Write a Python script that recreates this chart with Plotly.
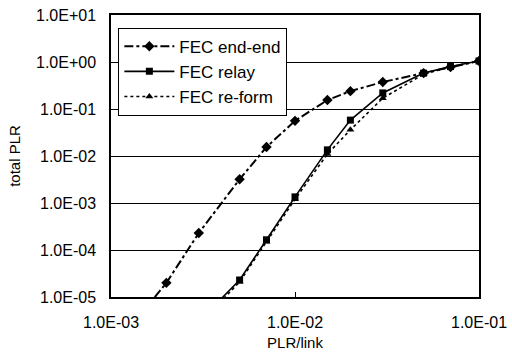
import plotly.graph_objects as go

# PLR per link (x) values
x_end = [0.0015, 0.002, 0.003, 0.005, 0.007, 0.01, 0.015, 0.02, 0.03, 0.05, 0.07, 0.1]
y_end = [5.0e-6, 2.0e-5, 2.3e-4, 3.2e-3, 1.55e-2, 5.6e-2, 0.155, 0.24, 0.375, 0.58, 0.78, 1.05]

x_relay = [0.003, 0.005, 0.007, 0.01, 0.015, 0.02, 0.03, 0.05, 0.07, 0.1]
y_relay = [3.0e-6, 2.3e-5, 1.65e-4, 1.35e-3, 1.35e-2, 5.8e-2, 0.22, 0.58, 0.8, 1.05]

x_reform = [0.003, 0.005, 0.007, 0.01, 0.015, 0.02, 0.03, 0.05, 0.07, 0.1]
y_reform = [2.6e-6, 2.1e-5, 1.5e-4, 1.2e-3, 1.1e-2, 3.6e-2, 0.17, 0.55, 0.79, 1.05]

names = ["FEC end-end", "FEC relay", "FEC re-form"]

y_tickvals = [1e-5, 1e-4, 1e-3, 1e-2, 1e-1, 1e0, 1e1]
y_ticktext = ["1.0E-05", "1.0E-04", "1.0E-03", "1.0E-02", "1.0E-01", "1.0E+00", "1.0E+01"]
x_tickvals = [1e-3, 1e-2, 1e-1]
x_ticktext = ["1.0E-03", "1.0E-02", "1.0E-01"]

FONT = "Liberation Sans"

fig = go.Figure()
fig.add_trace(go.Scatter(
    x=x_end, y=y_end, name=names[0], mode="lines+markers",
    line=dict(color="black", width=2, dash="dashdot"),
    marker=dict(symbol="diamond", size=8, color="black"),
    cliponaxis=True))
fig.add_trace(go.Scatter(
    x=x_relay, y=y_relay, name=names[1], mode="lines+markers",
    line=dict(color="black", width=1.6, dash="solid"),
    marker=dict(symbol="square", size=7, color="black"),
    cliponaxis=True))
fig.add_trace(go.Scatter(
    x=x_reform, y=y_reform, name=names[2], mode="lines+markers",
    line=dict(color="black", width=1.6, dash="dot"),
    marker=dict(symbol="triangle-up", size=7, color="black"),
    cliponaxis=True))

fig.update_layout(
    width=512, height=356,
    margin=dict(l=111, r=33, t=15, b=59),
    paper_bgcolor="white", plot_bgcolor="white",
    font=dict(family=FONT, size=15, color="black"),
    showlegend=True,
    legend=dict(
        x=0.02, y=0.955, xanchor="left", yanchor="top",
        bgcolor="white", bordercolor="black", borderwidth=1,
        font=dict(family=FONT, size=17, color="black"),
        tracegroupgap=0, itemwidth=50,
    ),
    xaxis=dict(
        type="log", range=[-3, -1],
        tickvals=x_tickvals, ticktext=x_ticktext,
        showgrid=False, showline=True, linecolor="black", linewidth=1.5,
        mirror=True, ticks="inside", ticklen=5, tickcolor="black",
        tickfont=dict(family=FONT, size=16), ticklabelstandoff=10,
        title=dict(text="PLR/link", font=dict(family=FONT, size=15), standoff=8),
        zeroline=False, automargin=False,
    ),
    yaxis=dict(
        type="log", range=[-5, 1],
        tickvals=y_tickvals, ticktext=y_ticktext,
        showgrid=True, gridcolor="black", gridwidth=1,
        showline=True, linecolor="black", linewidth=1.5,
        mirror=True, ticks="inside", ticklen=4, tickcolor="black",
        tickfont=dict(family=FONT, size=16), ticklabelstandoff=10,
        title=dict(text="total PLR", font=dict(family=FONT, size=15), standoff=12),
        zeroline=False, automargin=False,
    ),
)

fig.write_html(
    "out.html",
    config={"displayModeBar": False},
    post_script="document.body.style.margin='0';document.body.style.padding='0';document.body.style.overflow='hidden';",
)
